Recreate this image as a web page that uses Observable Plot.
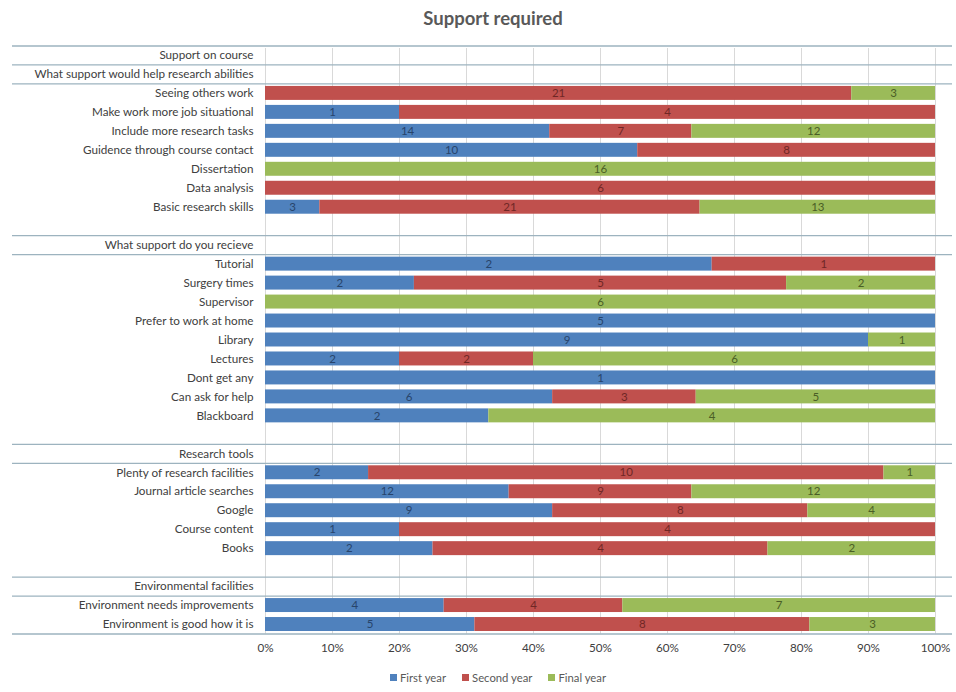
<!DOCTYPE html>
<html>
<head>
<meta charset="utf-8">
<script src="https://cdn.jsdelivr.net/npm/d3@7"></script>
<script src="https://cdn.jsdelivr.net/npm/@observablehq/plot@0.6"></script>
<style>
  body { margin: 0; background: #fff; font-family: Lato, "Open Sans", sans-serif; }
  #title { width: 926px; padding-left: 30px; height: 36px; line-height: 36px; text-align: center;
           font-size: 18.5px; font-weight: bold; color: #595959; }
  #legend { width: 916px; padding-left: 40px; height: 38px; display: flex; justify-content: center;
            align-items: center; font-size: 11.3px; color: #595959; }
  #legend .item { display: flex; align-items: center; margin: 0 8px; }
  #legend .sw { width: 7px; height: 7px; margin-right: 3px; }
</style>
</head>
<body>
<div id="title">Support required</div>
<div id="chart"></div>
<div id="legend"></div>
<script>
// Row order of the category axis: section headings, answers and spacer rows
const categories = [
  "Support on course",
  "What support would help research abilities",
  "Seeing others work",
  "Make work more job situational",
  "Include more research tasks",
  "Guidence through course contact",
  "Dissertation",
  "Data analysis",
  "Basic research skills",
  " ",
  "What support do you recieve",
  "Tutorial",
  "Surgery times",
  "Supervisor",
  "Prefer to work at home",
  "Library",
  "Lectures",
  "Dont get any",
  "Can ask for help",
  "Blackboard",
  "  ",
  "Research tools",
  "Plenty of research facilities",
  "Journal article searches",
  "Google",
  "Course content",
  "Books",
  "   ",
  "Environmental facilities",
  "Environment needs improvements",
  "Environment is good how it is"
];

// Answers that carry counts
const answers = [
  "Seeing others work", "Make work more job situational", "Include more research tasks",
  "Guidence through course contact", "Dissertation", "Data analysis", "Basic research skills",
  "Tutorial", "Surgery times", "Supervisor", "Prefer to work at home", "Library", "Lectures",
  "Dont get any", "Can ask for help", "Blackboard",
  "Plenty of research facilities", "Journal article searches", "Google", "Course content", "Books",
  "Environment needs improvements", "Environment is good how it is"
];
const firstYear  = [0, 1, 14, 10, 0, 0, 3,   2, 2, 0, 5, 9, 2, 1, 6, 2,   2, 12, 9, 1, 2,   4, 5];
const secondYear = [21, 4, 7, 8, 0, 6, 21,   1, 5, 0, 0, 0, 2, 0, 3, 0,   10, 9, 8, 4, 4,   4, 8];
const finalYear  = [3, 0, 12, 0, 16, 0, 13,  0, 2, 6, 0, 1, 6, 0, 5, 4,   1, 12, 4, 0, 2,   7, 3];

const years = ["First year", "Second year", "Final year"];
const barColors = {"First year": "#4f81bd", "Second year": "#c0504d", "Final year": "#9bbb59"};
const labelColors = {"First year": "#27446b", "Second year": "#6f2725", "Final year": "#4a5e26"};

// Rows that have a group separator along their top edge
const separatorsAbove = [
  "Support on course", "What support would help research abilities", "Seeing others work",
  "What support do you recieve", "Tutorial", "Research tools", "Plenty of research facilities",
  "Environmental facilities", "Environment needs improvements"
];
const lastRow = categories[categories.length - 1];

const xTicks = [0, 0.1, 0.2, 0.3, 0.4, 0.5, 0.6, 0.7, 0.8, 0.9, 1];

// Long table: one record per non-empty segment
const series = [firstYear, secondYear, finalYear];
const table = [];
answers.forEach((a, i) => {
  years.forEach((y, j) => {
    const v = series[j][i];
    if (v > 0) table.push({label: a, year: y, count: v});
  });
});

const height = 622, marginTop = 9.5, marginBottom = 24.5;
const step = (height - marginTop - marginBottom) / categories.length;

const stack = (opts) => Plot.stackX({offset: "normalize", order: null}, {
  x: "count", y: "label", z: "year", ...opts
});

const chart = Plot.plot({
  width: 956,
  height,
  marginTop,
  marginBottom,
  marginLeft: 265,
  marginRight: 21,
  style: {fontFamily: "Lato, sans-serif", fontSize: "11.7px", color: "#404040", background: "#fff"},
  x: {domain: [0, 1], ticks: xTicks, tickFormat: d3.format(".0%"), tickSize: 0, tickPadding: 10, label: null},
  y: {domain: categories, padding: 0, tickSize: 0, tickPadding: 12, label: null},
  color: {type: "identity"},
  marks: [
    Plot.ruleX(xTicks, {stroke: "#d9d9d9", strokeWidth: 1, insetTop: 2.5}),
    Plot.barX(table, stack({fill: d => barColors[d.year], insetTop: 2.5, insetBottom: 2.5})),
    Plot.text(table, stack({text: "count", fill: d => labelColors[d.year], fontSize: 11.5})),
    Plot.ruleY(separatorsAbove, {y: d => d, dy: -step / 2, stroke: "#9db3bf", strokeWidth: 1.3,
                                 insetLeft: -253, insetRight: -17}),
    Plot.ruleY([lastRow], {y: d => d, dy: step / 2, stroke: "#9db3bf", strokeWidth: 1.3,
                           insetLeft: -253, insetRight: -17})
  ]
});
document.getElementById("chart").appendChild(chart);

// Legend
const legend = document.getElementById("legend");
years.forEach(y => {
  const item = document.createElement("div");
  item.className = "item";
  const sw = document.createElement("div");
  sw.className = "sw";
  sw.style.background = barColors[y];
  const t = document.createElement("span");
  t.textContent = y;
  item.appendChild(sw);
  item.appendChild(t);
  legend.appendChild(item);
});
</script>
</body>
</html>
